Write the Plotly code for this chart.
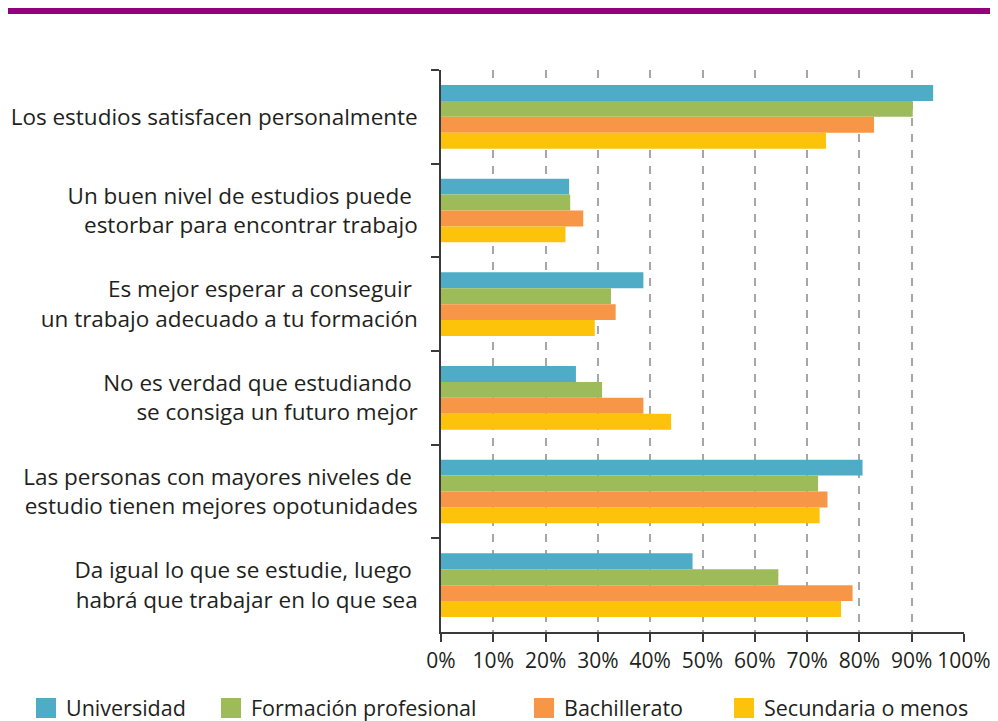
import plotly.graph_objects as go

categories = [
    "Los estudios satisfacen personalmente",
    "Un buen nivel de estudios puede <br>estorbar para encontrar trabajo",
    "Es mejor esperar a conseguir <br>un trabajo adecuado a tu formación",
    "No es verdad que estudiando <br>se consiga un futuro mejor",
    "Las personas con mayores niveles de <br>estudio tienen mejores opotunidades",
    "Da igual lo que se estudie, luego <br>habrá que trabajar en lo que sea",
]
series_names = ["Universidad", "Formación profesional", "Bachillerato", "Secundaria o menos"]
universidad = [94.1, 24.5, 38.7, 25.8, 80.6, 48.1]
formacion = [90.2, 24.7, 32.5, 30.8, 72.1, 64.5]
bachillerato = [82.8, 27.2, 33.4, 38.7, 73.9, 78.7]
secundaria = [73.6, 23.8, 29.4, 44.0, 72.4, 76.5]
tick_vals = [0, 10, 20, 30, 40, 50, 60, 70, 80, 90, 100]
tick_text = [f"{v}%" for v in tick_vals]

colors = ["#4EACC6", "#9DBB59", "#F79646", "#FDC20A"]
values = [universidad, formacion, bachillerato, secundaria]

FONT = "Open Sans"
TXT = "#231F20"
# page has 8px body margin -> figure coordinates offset by 8
L, R, T, B = 433, 42, 62, 97
PW = 998 - L - R
PH = 721 - T - B

legend_names = ["legend", "legend2", "legend3", "legend4"]
legend_left_fig = [18, 203, 516, 716]

fig = go.Figure()
for name, vals, col, lg in zip(series_names, values, colors, legend_names):
    fig.add_trace(go.Bar(
        y=categories, x=vals, name=name, orientation="h",
        marker=dict(color=col, line=dict(width=0)),
        showlegend=False,
    ))
    fig.add_trace(go.Scatter(
        x=[None], y=[None], mode="markers", name=name, legend=lg,
        marker=dict(symbol="square", size=20, color=col,
                    line=dict(width=4, color=col)),
        showlegend=True,
    ))

layout_legends = {}
for lg, left in zip(legend_names, legend_left_fig):
    layout_legends[lg] = dict(
        orientation="h", x=(left - L) / PW, xanchor="left", y=(624 - 700) / PH,
        yanchor="middle", font=dict(family=FONT, size=21.5, color=TXT),
        itemsizing="trace", bgcolor="rgba(0,0,0,0)",
    )

fig.update_layout(
    width=998, height=721,
    margin=dict(l=L, r=R, t=T, b=B, autoexpand=False),
    paper_bgcolor="white", plot_bgcolor="white",
    barmode="group", bargap=0.32, bargroupgap=0,
    font=dict(family=FONT, size=22, color=TXT),
    showlegend=True,
    xaxis=dict(
        range=[0, 100], tickvals=tick_vals, ticktext=tick_text,
        showgrid=True, gridcolor="#A6A6A6", gridwidth=1.5, griddash="8px,8px",
        showline=True, linecolor="#3a3a3a", linewidth=1.5,
        ticks="outside", ticklen=8, tickcolor="#3a3a3a", tickwidth=1.5,
        zeroline=False, ticklabelstandoff=1,
        tickfont=dict(family=FONT, size=21, color=TXT),
        fixedrange=True,
    ),
    yaxis=dict(
        autorange="reversed", type="category",
        showline=True, linecolor="#3a3a3a", linewidth=1.5,
        ticks="outside", ticklen=8, tickcolor="#3a3a3a", tickwidth=1.5,
        tickson="boundaries", showgrid=False,
        ticklabelstandoff=17,
        tickfont=dict(family=FONT, size=22.5, color=TXT),
    ),
    shapes=[dict(type="rect", xref="paper", yref="paper",
                 x0=(0 - L) / PW, x1=(984 - L) / PW,
                 y0=(T + PH - 6) / PH, y1=(T + PH - 0) / PH,
                 fillcolor="#93007E", line=dict(width=0))],
    **layout_legends,
)

fig.write_html("out.html")
